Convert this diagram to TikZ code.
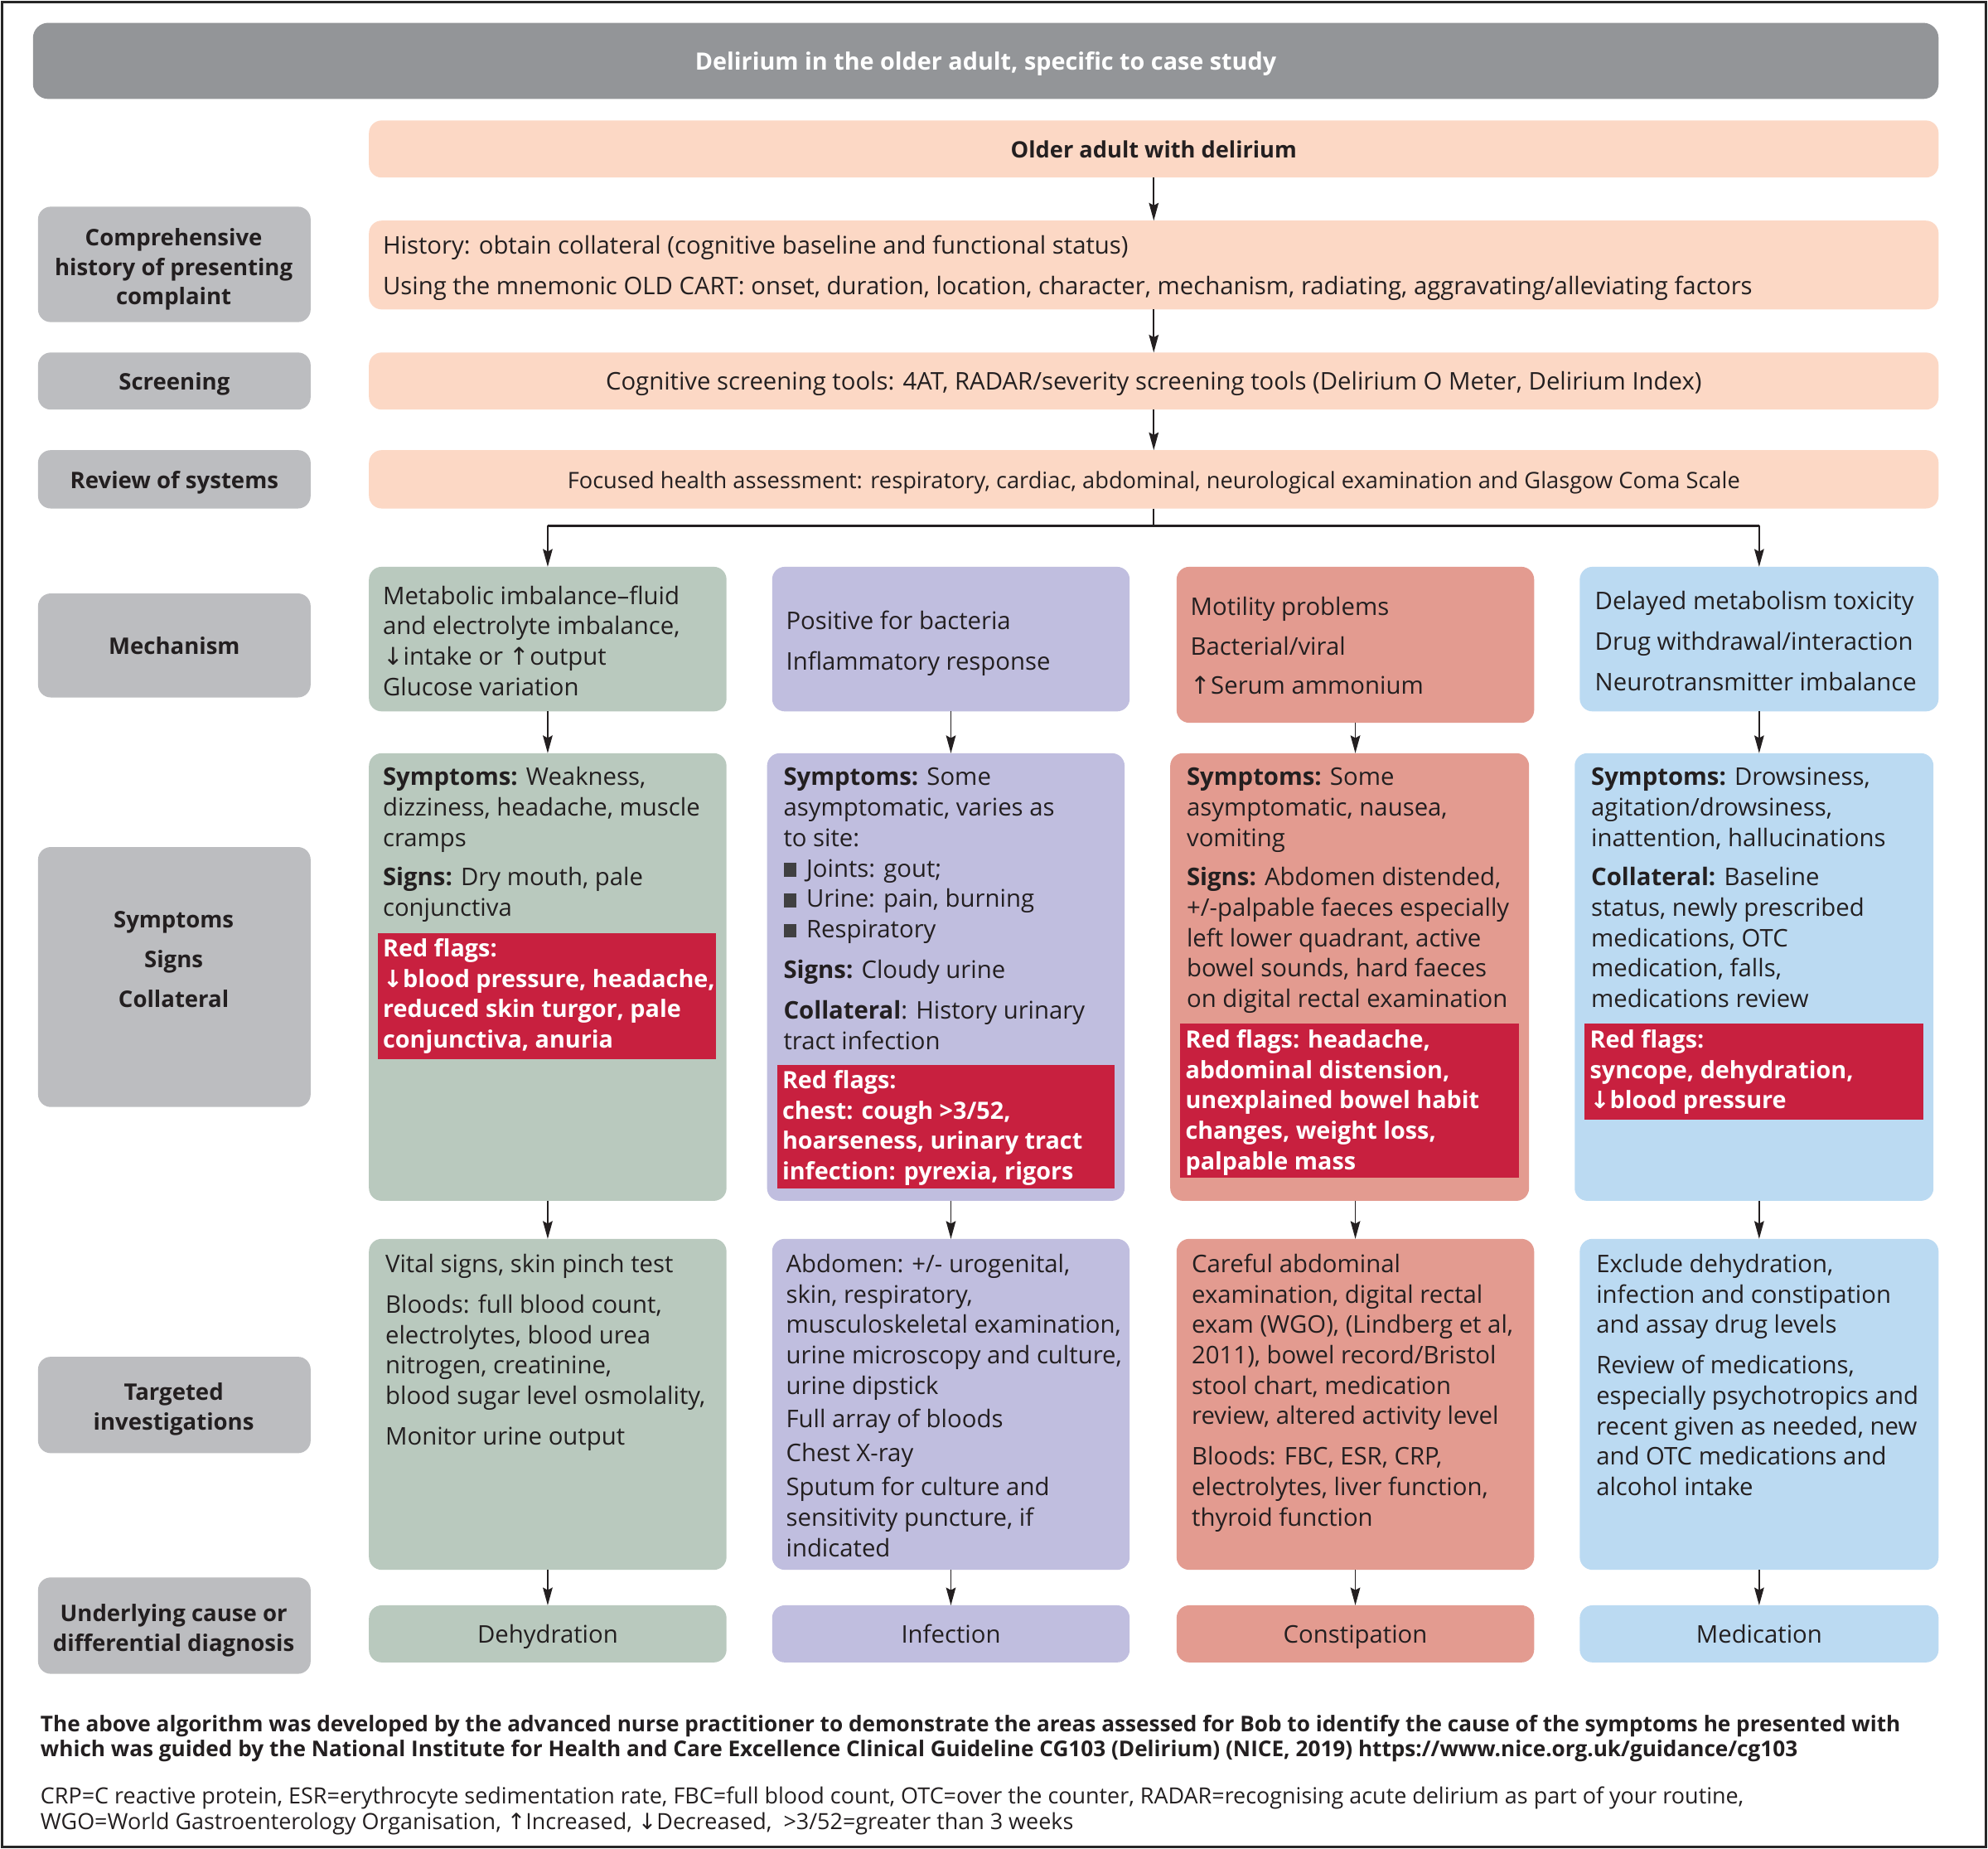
\documentclass[tikz,border=0pt]{standalone}
\usepackage{fontspec}
\setmainfont{Open Sans}
\newfontfamily\symf{DejaVu Sans}
\usetikzlibrary{arrows.meta}
\definecolor{titlegray}{HTML}{939598}
\definecolor{labelgray}{HTML}{BCBDC0}
\definecolor{peach}{HTML}{FCD8C5}
\definecolor{colgreen}{HTML}{B9C9BE}
\definecolor{collav}{HTML}{C0BEDF}
\definecolor{colsal}{HTML}{E39B90}
\definecolor{colblue}{HTML}{BBDAF2}
\definecolor{cred}{HTML}{C8203F}
\definecolor{ink}{HTML}{231F20}
\definecolor{sqgray}{HTML}{404041}
\newcommand\bodyf{\fontsize{9.58}{12}\selectfont}
\newcommand\boldf{\fontsize{9.4}{12}\selectfont\bfseries}
\newcommand\lblf{\fontsize{9}{11.75}\selectfont\bfseries}
\newcommand\footbf{\fontsize{8.55}{10}\selectfont\bfseries}
\newcommand\footf{\fontsize{8.8}{10}\selectfont}
\newcommand\dn{{\symf\char"2193}}
\newcommand\up{{\symf\char"2191}}
\newcommand\sq{{\color{sqgray}\rule{5pt}{5.5pt}}\hspace{4pt}}
\newcommand\mkbox[7]{\node[#2, minimum width={(#5-#3)*0.5pt}, minimum height={(#6-#4)*0.5pt}] (#1) at ({(#3+#5)/2},{(#4+#6)/2}) {#7};}
\newcommand\tx[5]{\node[#2, anchor=north west] (#1) at (#3,{#4-10.5}) {\rule{0pt}{9pt}#5};}
\newcommand\lt[4]{\node[ltxt, anchor=north] (#1) at (#2,{#3-10.5}) {\rule{0pt}{9pt}#4};}
\begin{document}
\begin{tikzpicture}[x=0.5pt,y=-0.5pt,
  shp/.style={rectangle, rounded corners=5pt, inner sep=0pt, outer sep=0pt, draw=none},
  one/.style={text height=8.2pt, text depth=1pt},
  lbl/.style={shp, fill=labelgray, font=\lblf, text=ink, align=center},
  pch/.style={shp, fill=peach, font=\bodyf, text=ink},
  gbx/.style={shp, fill=colgreen, font=\bodyf, text=ink},
  lbx/.style={shp, fill=collav, font=\bodyf, text=ink},
  sbx/.style={shp, fill=colsal, font=\bodyf, text=ink},
  bbx/.style={shp, fill=colblue, font=\bodyf, text=ink},
  rbx/.style={rectangle, inner sep=0pt, outer sep=0pt, fill=cred},
  txt/.style={inner sep=0pt, outer sep=0pt, align=left, font=\bodyf, text=ink},
  rtxt/.style={txt, font=\boldf, text=white},
  ltxt/.style={inner sep=0pt, outer sep=0pt, align=center, font=\lblf, text=ink},
  arr/.style={draw=ink, line width=0.6pt, -{Stealth[length=7pt,width=3.8pt,inset=1pt]}},
  conn/.style={draw=ink, line width=0.6pt},
]
\useasboundingbox (0,0) rectangle (1568,1458);
\fill[white] (0,0) rectangle (1568,1458);
\draw[line width=0.9pt, draw=black!85] (1.5,1.5) rectangle (1566.5,1456.5);

% title
\mkbox{title}{shp, one, rounded corners=6pt, fill=titlegray, font=\boldf, text=white}{26}{18}{1529}{78}{Delirium in the older adult, specific to case study}

% left labels
\mkbox{Lhist}{lbl}{30}{163}{245}{254}{}
\lt{Lhistt}{137}{186}{Comprehensive\\ history of presenting\\ complaint}
\mkbox{Lscr}{lbl, one}{30}{278}{245}{323}{Screening}
\mkbox{Lrev}{lbl, one}{30}{355}{245}{401}{Review of systems}
\mkbox{Lmech}{lbl, one}{30}{468}{245}{550}{Mechanism}
\mkbox{Lsym}{lbl}{30}{668}{245}{873}{}
\lt{Lsymt}{137}{724}{Symptoms\\[4pt] Signs\\[4pt] Collateral}
\mkbox{Linv}{lbl}{30}{1070}{245}{1146}{}
\lt{Linvt}{137}{1097}{Targeted\\ investigations}
\mkbox{Lund}{lbl}{30}{1244}{245}{1320}{}
\lt{Lundt}{137}{1271}{Underlying cause or\\ differential diagnosis}

% peach boxes
\mkbox{older}{pch, one, font=\fontsize{8.9}{12}\selectfont\bfseries}{291}{95}{1529}{140}{Older adult with delirium}
\mkbox{hist}{pch}{291}{174}{1529}{244}{}
\tx{histt}{txt}{302}{193}{History: obtain collateral (cognitive baseline and functional status)\\[4pt] Using the mnemonic OLD CART: onset, duration, location, character, mechanism, radiating, aggravating/alleviating factors}
\mkbox{scr}{pch, one}{291}{278}{1529}{323}{Cognitive screening tools: 4AT, RADAR/severity screening tools (Delirium O Meter, Delirium Index)}
\mkbox{rev}{pch, one, font=\fontsize{8.9}{11}\selectfont}{291}{355}{1529}{401}{Focused health assessment: respiratory, cardiac, abdominal, neurological examination and Glasgow Coma Scale}

% mechanism boxes
\mkbox{m1}{gbx}{291}{447}{573}{561}{}
\mkbox{m2}{lbx}{609}{447}{891}{561}{}
\mkbox{m3}{sbx}{928}{447}{1210}{570}{}
\mkbox{m4}{bbx}{1246}{447}{1529}{561}{}
\tx{m1t}{txt}{302}{469}{Metabolic imbalance–fluid\\ and electrolyte imbalance,\\ \dn intake or \up output\\ Glucose variation}
\tx{m2t}{txt}{620}{489}{Positive for bacteria\\[4pt] Inflammatory response}
\tx{m3t}{txt}{939}{478}{Motility problems\\[3.5pt] Bacterial/viral\\[3.5pt] \up Serum ammonium}
\tx{m4t}{txt}{1258}{473}{Delayed metabolism toxicity\\[4pt] Drug withdrawal/interaction\\[4pt] Neurotransmitter imbalance}

% symptoms boxes
\mkbox{s1}{gbx}{291}{594}{573}{947}{}
\mkbox{s2}{lbx}{605}{594}{887}{947}{}
\mkbox{s3}{sbx}{923}{594}{1206}{947}{}
\mkbox{s4}{bbx}{1242}{594}{1525}{947}{}
\mkbox{r1}{rbx}{298}{736}{565}{835}{}
\mkbox{r2}{rbx}{613}{840}{879}{937}{}
\mkbox{r3}{rbx}{931}{807}{1198}{929}{}
\mkbox{r4}{rbx}{1250}{807}{1517}{883}{}
\tx{s1t}{txt}{302}{612}{\textbf{Symptoms:} Weakness,\\ dizziness, headache, muscle\\ cramps\\[3.5pt] \textbf{Signs:} Dry mouth, pale\\ conjunctiva}
\tx{r1t}{rtxt}{302}{747}{Red flags:\\ \dn blood pressure, headache,\\ reduced skin turgor, pale\\ conjunctiva, anuria}
\tx{s2t}{txt}{618}{612}{\textbf{Symptoms:} Some\\ asymptomatic, varies as\\ to site:\\ \sq Joints: gout;\\ \sq Urine: pain, burning\\ \sq Respiratory\\[4pt] \textbf{Signs:} Cloudy urine\\[4pt] \textbf{Collateral}: History urinary\\ tract infection}
\tx{r2t}{rtxt}{617}{851}{Red flags:\\ chest: cough >3/52,\\ hoarseness, urinary tract\\ infection: pyrexia, rigors}
\tx{s3t}{txt}{936}{612}{\textbf{Symptoms:} Some\\ asymptomatic, nausea,\\ vomiting\\[3.5pt] \textbf{Signs:} Abdomen distended,\\ +/-palpable faeces especially\\ left lower quadrant, active\\ bowel sounds, hard faeces\\ on digital rectal examination}
\tx{r3t}{rtxt}{935}{819}{Red flags: headache,\\ abdominal distension,\\ unexplained bowel habit\\ changes, weight loss,\\ palpable mass}
\tx{s4t}{txt}{1255}{612}{\textbf{Symptoms:} Drowsiness,\\ agitation/drowsiness,\\ inattention, hallucinations\\[3.5pt] \textbf{Collateral:} Baseline\\ status, newly prescribed\\ medications, OTC\\ medication, falls,\\ medications review}
\tx{r4t}{rtxt}{1254}{819}{Red flags:\\ syncope, dehydration,\\ \dn blood pressure}

% investigations
\mkbox{i1}{gbx}{291}{977}{573}{1238}{}
\mkbox{i2}{lbx}{609}{977}{891}{1238}{}
\mkbox{i3}{sbx}{928}{977}{1210}{1238}{}
\mkbox{i4}{bbx}{1246}{977}{1529}{1238}{}
\tx{i1t}{txt}{304}{996}{Vital signs, skin pinch test\\[4pt] Bloods: full blood count,\\ electrolytes, blood urea\\ nitrogen, creatinine,\\ blood sugar level osmolality,\\[4pt] Monitor urine output}
\tx{i2t}{txt}{620}{996}{Abdomen: +/- urogenital,\\ skin, respiratory,\\ musculoskeletal examination,\\ urine microscopy and culture,\\ urine dipstick\\[1pt] Full array of bloods\\[1.5pt] Chest X-ray\\[1.5pt] Sputum for culture and\\ sensitivity puncture, if\\ indicated}
\tx{i3t}{txt}{940}{996}{Careful abdominal\\ examination, digital rectal\\ exam (WGO), (Lindberg et al,\\ 2011), bowel record/Bristol\\ stool chart, medication\\ review, altered activity level\\[4pt] Bloods: FBC, ESR, CRP,\\ electrolytes, liver function,\\ thyroid function}
\tx{i4t}{txt}{1259}{996}{Exclude dehydration,\\ infection and constipation\\ and assay drug levels\\[4pt] Review of medications,\\ especially psychotropics and\\ recent given as needed, new\\ and OTC medications and\\ alcohol intake}

% final
\mkbox{f1}{gbx, one}{291}{1266}{573}{1311}{Dehydration}
\mkbox{f2}{lbx, one}{609}{1266}{891}{1311}{Infection}
\mkbox{f3}{sbx, one}{928}{1266}{1210}{1311}{Constipation}
\mkbox{f4}{bbx, one}{1246}{1266}{1529}{1311}{Medication}

% connectors
\draw[arr] (older.south) -- (hist.north);
\draw[arr] (hist.south) -- (scr.north);
\draw[arr] (scr.south) -- (rev.north);
\coordinate (brk) at (910,415);
\draw[conn] (rev.south) -- (brk);
\draw[arr] (brk) -| (m1.north);
\draw[arr] (brk) -| (m4.north);
\draw[conn, line width=1pt] (m1.north |- brk) -- (m4.north |- brk);
\foreach \i in {1,...,4}{
  \draw[arr] (m\i.south) -- (m\i.south |- s\i.north);
  \draw[arr] (s\i.south -| i\i.north) -- (i\i.north);
  \draw[arr] (i\i.south) -- (f\i.north);
}

% footer
\tx{foot1}{txt, font=\footbf}{32}{1358}{The above algorithm was developed by the advanced nurse practitioner to demonstrate the areas assessed for Bob to identify the cause of the symptoms he presented with\\ which was guided by the National Institute for Health and Care Excellence Clinical Guideline CG103 (Delirium) (NICE, 2019) https://www.nice.org.uk/guidance/cg103}
\tx{foot2}{txt, font=\footf}{32}{1415}{CRP=C reactive protein, ESR=erythrocyte sedimentation rate, FBC=full blood count, OTC=over the counter, RADAR=recognising acute delirium as part of your routine,\\ WGO=World Gastroenterology Organisation, \up Increased, \dn Decreased,\ \ >3/52=greater than 3 weeks}
\end{tikzpicture}
\end{document}
